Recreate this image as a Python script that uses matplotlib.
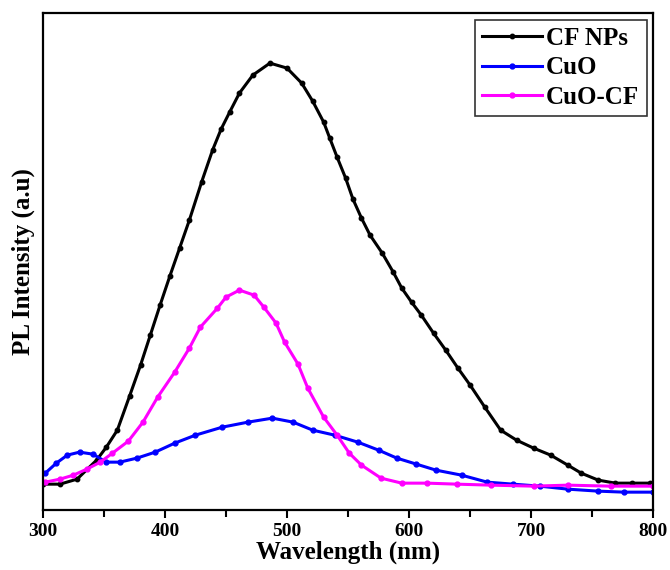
import numpy as np
import matplotlib.pyplot as plt

# -------------------------------
# PL spectra (arbitrary units)
# -------------------------------
wl_cf = [300, 314, 328, 344, 352, 361, 371, 380, 388, 396, 404, 412, 420, 430, 439, 446, 453,
         461, 472, 486, 500, 512, 521, 530, 535, 541, 548, 554, 561, 568, 578, 587, 594, 602,
         610, 620, 630, 640, 650, 662, 675, 688, 702, 716, 730, 741, 755, 769, 783, 797]
pl_cf = [26, 26, 31, 50, 63, 80, 114, 145, 175, 205, 234, 262, 290, 328, 360, 381, 398,
         417, 435, 447, 442, 427, 409, 388, 372, 353, 332, 311, 292, 275, 257, 238, 222, 208,
         195, 177, 160, 142, 125, 103, 80, 70, 62, 55, 45, 37, 30, 27, 27, 27]

wl_cuo = [302, 311, 320, 330, 341, 352, 363, 377, 392, 408, 425, 447, 468, 488, 505, 521,
          539, 558, 575, 590, 606, 622, 643, 664, 685, 707, 730, 755, 776, 800]
pl_cuo = [37, 47, 55, 58, 56, 48, 48, 52, 58, 67, 75, 83, 88, 92, 88, 80,
          75, 68, 60, 52, 46, 40, 35, 28, 26, 24, 21, 19, 18, 18]

wl_cuocf = [302, 314, 325, 336, 347, 357, 370, 382, 394, 408, 420, 429, 443, 450, 461, 473,
            481, 491, 498, 509, 517, 530, 541, 551, 561, 577, 594, 615, 639, 667, 702, 730,
            765, 800]
pl_cuocf = [28, 31, 35, 41, 48, 57, 69, 88, 113, 138, 162, 183, 202, 213, 220, 215,
            203, 187, 168, 146, 122, 93, 75, 57, 45, 32, 27, 27, 26, 25, 24, 25,
            24, 24]

# -------------------------------
# Plotting
# -------------------------------
plt.rcParams['font.family'] = ['Liberation Serif', 'DejaVu Serif']
plt.rcParams['font.weight'] = 'bold'

fig = plt.figure(figsize=(6.7, 5.7), dpi=100)
ax = fig.add_axes([0.064, 0.105, 0.911, 0.872])

ax.plot(wl_cf, pl_cf, '-o', color='black', linewidth=2.2, markersize=3.2, label='CF NPs')
ax.plot(wl_cuo, pl_cuo, '-o', color='#0000ff', linewidth=2.2, markersize=3.5, label='CuO')
ax.plot(wl_cuocf, pl_cuocf, '-o', color='#ff00ff', linewidth=2.2, markersize=3.5, label='CuO-CF')

ax.set_xlim(300, 800)
ax.set_ylim(0, 497)
ax.set_xticks(np.arange(300, 801, 100))
ax.set_xticks(np.arange(350, 800, 100), minor=True)
ax.set_yticks([])
ax.tick_params(axis='x', which='major', direction='out', length=5.5, width=1.5,
               labelsize=14, pad=4)
ax.tick_params(axis='x', which='minor', direction='out', length=5, width=1.5)
for lbl in ax.get_xticklabels():
    lbl.set_fontweight('bold')
for sp in ax.spines.values():
    sp.set_linewidth(1.6)

ax.set_xlabel('Wavelength (nm)', fontsize=18, fontweight='bold', labelpad=0)
ax.set_ylabel('PL Intensity (a.u)', fontsize=18, fontweight='bold', labelpad=6)

leg = ax.legend(loc='upper right', fontsize=18, handlelength=2.4, handletextpad=0.15,
                borderaxespad=0.26, fancybox=False, edgecolor='black',
                borderpad=0.3, labelspacing=0.25, markerscale=1)
leg.get_frame().set_linewidth(1.2)
for t in leg.get_texts():
    t.set_fontweight('bold')

fig.savefig('out.png', dpi=100)
